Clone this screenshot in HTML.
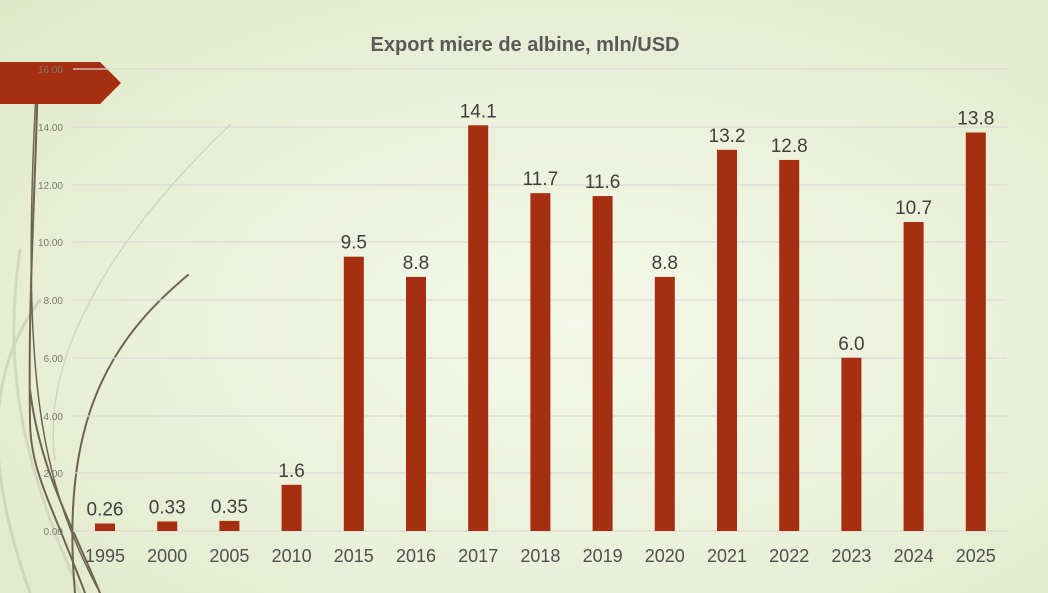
<!DOCTYPE html>
<html><head><meta charset="utf-8"><style>
html,body{margin:0;padding:0}
body{width:1048px;height:593px;overflow:hidden;position:relative;font-family:"Liberation Sans",sans-serif;
background:radial-gradient(ellipse at 55% 55%,#f5f8ea 0%,#eaf0d9 55%,#dfe8c7 100%);}
</style></head><body>
<svg width="1048" height="593" style="position:absolute;left:0;top:0">
<g fill="none" stroke-linecap="round">
<path d="M30 593 C-10 480 -20 380 40 300" stroke="#cfd6bb" stroke-width="3"/>
<path d="M80 593 C30 480 0 380 20 250" stroke="#d3d9c0" stroke-width="3"/>
<path d="M230 125 C120 230 40 350 55 460" stroke="#d0d6be" stroke-width="1.5"/>
<path d="M100 593 C40 480 20 380 37 74" stroke="#6e6451" stroke-width="1.5"/>
<path d="M85 593 C50 500 30 470 30 420 C28 300 35 200 38 74" stroke="#6e6451" stroke-width="2"/>
<path d="M100 593 C70 520 40 470 30 390" stroke="#6e6451" stroke-width="2"/>
<path d="M188 275 C110 340 60 420 75 593" stroke="#6e6451" stroke-width="2"/>
</g>
<polygon points="0,62 100,62 121,83 100,104 0,104" fill="#a52f10"/>
<g stroke="#dadad4" stroke-width="1.3">
<line x1="73" y1="69" x2="1007" y2="69"/><line x1="73" y1="127" x2="1007" y2="127"/>
<line x1="73" y1="185" x2="1007" y2="185"/><line x1="73" y1="242" x2="1007" y2="242"/>
<line x1="73" y1="300" x2="1007" y2="300"/><line x1="73" y1="358" x2="1007" y2="358"/>
<line x1="73" y1="416" x2="1007" y2="416"/><line x1="73" y1="473" x2="1007" y2="473"/>
<line x1="73" y1="531" x2="1007" y2="531"/>
</g>
<g font-size="10" fill="#7a7a72" text-anchor="end">
<text x="63" y="73">16.00</text><text x="63" y="131">14.00</text><text x="63" y="189">12.00</text>
<text x="63" y="246">10.00</text><text x="63" y="304">8.00</text><text x="63" y="362">6.00</text>
<text x="63" y="420">4.00</text><text x="63" y="477">2.00</text><text x="63" y="535">0.00</text>
</g>
<text x="525" y="51" text-anchor="middle" font-size="20" font-weight="bold" fill="#595959">Export miere de albine, mln/USD</text>
<g id="bars"></g>
</svg>
<script>
var d=[["1995",0.26,"0.26"],["2000",0.33,"0.33"],["2005",0.35,"0.35"],["2010",1.6,"1.6"],["2015",9.5,"9.5"],["2016",8.8,"8.8"],["2017",14.05,"14.1"],["2018",11.7,"11.7"],["2019",11.6,"11.6"],["2020",8.8,"8.8"],["2021",13.2,"13.2"],["2022",12.85,"12.8"],["2023",6.0,"6.0"],["2024",10.7,"10.7"],["2025",13.8,"13.8"]];
var s="";for(var i=0;i<d.length;i++){var c=105+i*62.2,h=d[i][1]*28.875,t=531-h;
s+='<rect x="'+(c-10)+'" y="'+t+'" width="20" height="'+h+'" fill="#a52f10"/>';
s+='<text x="'+c+'" y="'+(t-8)+'" text-anchor="middle" font-size="19" fill="#404040">'+d[i][2]+'</text>';
s+='<text x="'+c+'" y="562" text-anchor="middle" font-size="18" fill="#505050">'+d[i][0]+'</text>';}
document.getElementById("bars").innerHTML=s;
</script>
</body></html>
